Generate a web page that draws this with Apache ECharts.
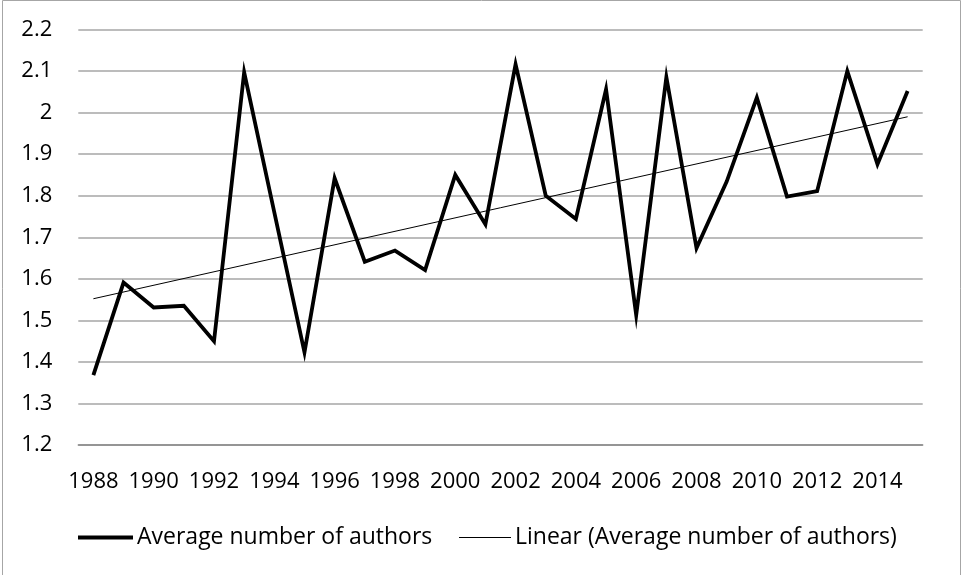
<!DOCTYPE html>
<html>
<head>
<meta charset="utf-8">
<script src="https://cdn.jsdelivr.net/npm/echarts@6/dist/echarts.min.js"></script>
<style>
html,body{margin:0;padding:0;background:#fff;}
#c{width:963px;height:575px;}
</style>
</head>
<body>
<div id="c"></div>
<script>
var years = ['1988','1989','1990','1991','1992','1993','1994','1995','1996','1997','1998','1999','2000','2001','2002','2003','2004','2005','2006','2007','2008','2009','2010','2011','2012','2013','2014','2015'];
var avgAuthors = [1.368,1.591,1.531,1.535,1.450,2.097,1.760,1.423,1.842,1.641,1.668,1.621,1.850,1.731,2.116,1.800,1.744,2.056,1.513,2.085,1.674,1.834,2.036,1.798,1.811,2.100,1.876,2.052];
var trendStart = 1.552;
var trendEnd = 1.990;
var seriesNames = ['Average number of authors','Linear (Average number of authors)'];

var trendData = years.map(function(y, i){
  if (i === 0) return trendStart;
  if (i === years.length - 1) return trendEnd;
  return null;
});

var font = 'Open Sans';
var chart = echarts.init(document.getElementById('c'), null, {renderer:'canvas'});
chart.setOption({
  animation:false,
  backgroundColor:'#fff',
  textStyle:{fontFamily:font},
  graphic:[{
    type:'rect', silent:true, z:-1,
    shape:{x:2.5,y:0.5,width:958,height:600},
    style:{fill:'none',stroke:'#a6a6a6',lineWidth:1}
  }],
  grid:{left:78.3,right:40.3,top:29.5,bottom:130,containLabel:false},
  legend:[{
    data:[{name:seriesNames[0],icon:'rect'}],
    left:73, top:521,
    itemWidth:55, itemHeight:4,
    textStyle:{fontFamily:font,fontSize:23,color:'#000',padding:[0,0,0,-1]}
  },{
    data:[{name:seriesNames[1],icon:'rect'}],
    left:454, top:521,
    itemWidth:52, itemHeight:1,
    textStyle:{fontFamily:font,fontSize:23,color:'#000',padding:[0,0,0,-1]}
  }],
  xAxis:{
    type:'category',
    data:years,
    boundaryGap:true,
    axisLine:{show:true,lineStyle:{color:'#888',width:1.5}},
    axisTick:{show:false},
    axisLabel:{interval:1,margin:26,fontFamily:font,fontSize:22,color:'#000'},
    splitLine:{show:false}
  },
  yAxis:{
    type:'value',
    min:1.2,max:2.2,interval:0.1,
    axisLine:{show:false},
    axisTick:{show:false},
    axisLabel:{margin:26,fontFamily:font,fontSize:22,color:'#000'},
    splitLine:{lineStyle:{color:'#a6a6a6',width:1.5}}
  },
  series:[{
    name:seriesNames[0],
    type:'line',
    data:avgAuthors,
    symbol:'none',
    lineStyle:{color:'#000',width:3.8,join:'miter'},
    itemStyle:{color:'#000'},
    z:3
  },{
    name:seriesNames[1],
    type:'line',
    data:trendData,
    connectNulls:true,
    symbol:'none',
    lineStyle:{color:'#000',width:1},
    itemStyle:{color:'#000'},
    z:4
  }]
});
</script>
</body>
</html>
